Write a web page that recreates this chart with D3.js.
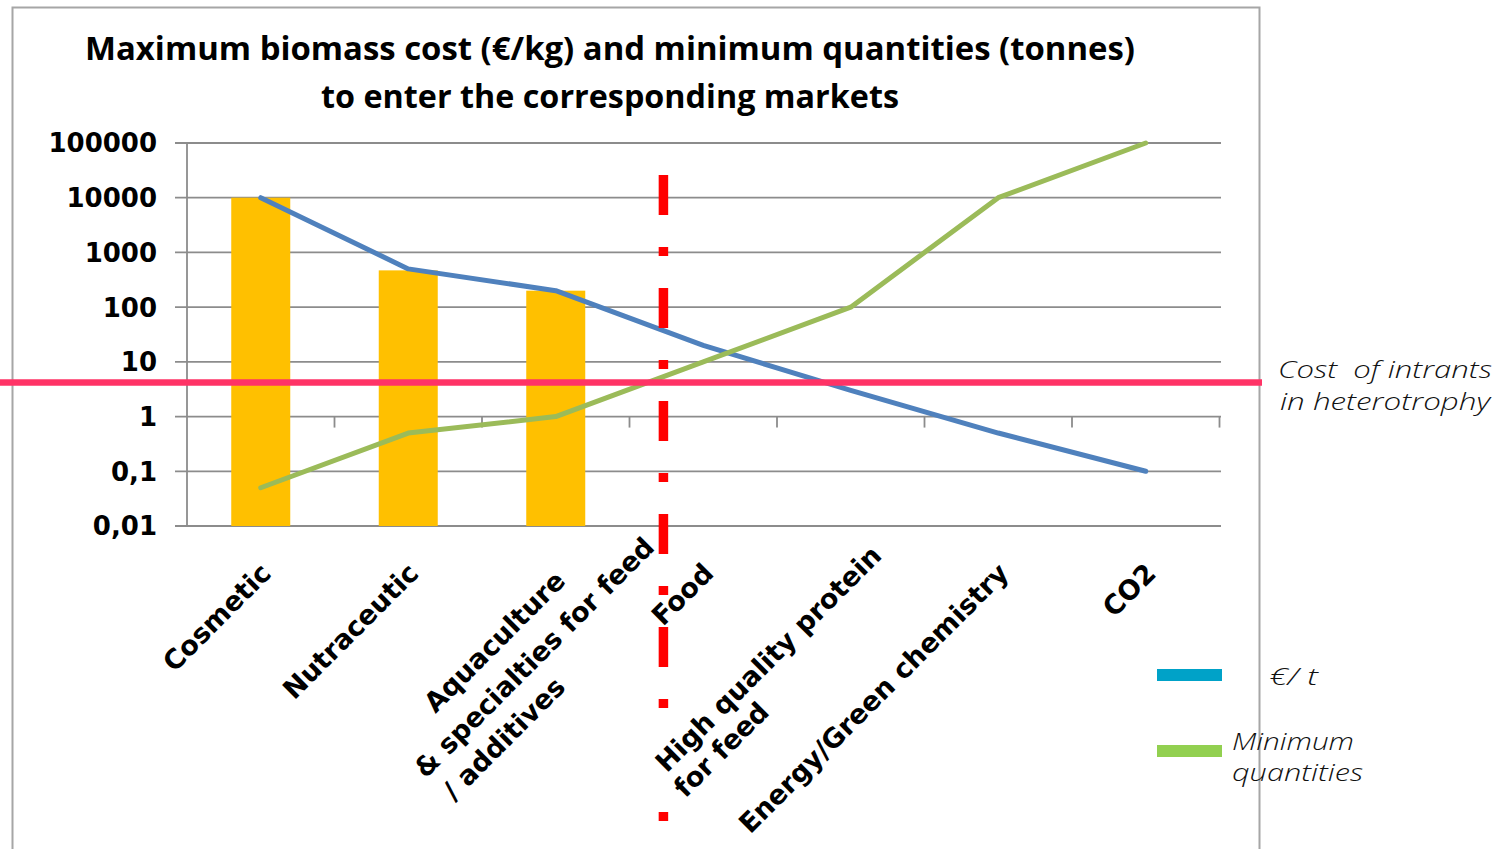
<!DOCTYPE html>
<html>
<head>
<meta charset="utf-8">
<script src="https://cdn.jsdelivr.net/npm/d3@7"></script>
<style>
  html, body { margin: 0; padding: 0; background: #ffffff; }
  svg { display: block; }
</style>
</head>
<body>
<script>
// ---------------- data ----------------
const categories = [
  ["Cosmetic"],
  ["Nutraceutic"],
  ["Aquaculture", "& specialties for feed", "/ additives"],
  ["Food"],
  ["High quality protein", "for feed"],
  ["Energy/Green chemistry"],
  ["CO2"]
];
const barValues = [10000, 470, 200, null, null, null, null];
const costValues = [10000, 500, 200, 20, 3, 0.5, 0.1];          // €/t
const minQuantities = [0.05, 0.5, 1, 10, 100, 10000, 100000];  // Minimum quantities
const yTickValues = [0.01, 0.1, 1, 10, 100, 1000, 10000, 100000];
const yTickLabels = ["0,01", "0,1", "1", "10", "100", "1000", "10000", "100000"];
const intrantsCost = 4.2;
const dividerAt = 3.23; // position in category units
const titleLines = ["Maximum biomass cost (\u20AC/kg) and minimum quantities (tonnes)", "to enter the corresponding markets"];
const legendLabels = [["\u20AC/ t"], ["Minimum", "quantities"]];
const annotationLines = ["Cost  of intrants", "in heterotrophy"];

// ---------------- layout ----------------
const W = 1510, H = 849;
const plot = { left: 187, right: 1219.5, top: 143, bottom: 526 };
// per-line offsets for the rotated multi-line labels [du, dv]
const labelLineOffsets = {
  2: [[-6, 5], [81, 44], [-81, 80]],
  4: [[27, 2], [-163, 33]]
};
const labelMasked = [4]; // labels drawn with an opaque box over the divider

const svg = d3.select("body").append("svg").attr("width", W).attr("height", H);
svg.append("rect").attr("width", W).attr("height", H).attr("fill", "#fff");

// chart border
svg.append("path")
  .attr("d", `M12.5,${H + 5} L12.5,7.5 L1259.5,7.5 L1259.5,${H + 5}`)
  .attr("fill", "none").attr("stroke", "#a6a6a6").attr("stroke-width", 2);

const x = d3.scaleBand().domain(d3.range(categories.length)).range([plot.left, plot.right]);
const bw = x.bandwidth();
const y = d3.scaleLog().domain([0.01, 100000]).range([plot.bottom, plot.top]);

// title
svg.append("g").selectAll("text").data(titleLines).join("text")
  .attr("x", 610).attr("y", (d, i) => 60 + i * 48)
  .attr("text-anchor", "middle")
  .attr("font-family", "'Open Sans', sans-serif").attr("font-weight", 700)
  .attr("font-size", 32).attr("fill", "#000")
  .attr("textLength", (d, i) => i === 0 ? 1050 : 578)
  .attr("lengthAdjust", "spacingAndGlyphs")
  .text(d => d);

// gridlines
const gridColor = "#8c8c8c";
svg.append("g").selectAll("line").data(yTickValues).join("line")
  .attr("x1", plot.left - 12).attr("x2", plot.right + 1.5)
  .attr("y1", d => y(d)).attr("y2", d => y(d))
  .attr("stroke", gridColor).attr("stroke-width", 1.8);

// y axis line
svg.append("line")
  .attr("x1", plot.left).attr("x2", plot.left)
  .attr("y1", plot.top).attr("y2", plot.bottom)
  .attr("stroke", gridColor).attr("stroke-width", 1.8);

// y labels
svg.append("g").selectAll("text").data(yTickValues).join("text")
  .attr("x", 157).attr("y", d => y(d)).attr("dy", "0.36em")
  .attr("text-anchor", "end")
  .attr("font-family", "'DejaVu Sans', sans-serif").attr("font-weight", 700)
  .attr("font-size", 26).attr("fill", "#000")
  .text((d, i) => yTickLabels[i]);

// category axis crossing at 1 with tick marks
const boundaries = d3.range(categories.length + 1).map(i => plot.left + i * bw);
svg.append("g").selectAll("line").data(boundaries.slice(1)).join("line")
  .attr("x1", d => d).attr("x2", d => d)
  .attr("y1", y(1)).attr("y2", y(1) + 11)
  .attr("stroke", gridColor).attr("stroke-width", 1.8);

// bars
svg.append("g").selectAll("rect").data(barValues.map((v, i) => ({ v, i })).filter(d => d.v != null)).join("rect")
  .attr("x", d => x(d.i) + bw * 0.3)
  .attr("width", bw * 0.4)
  .attr("y", d => y(d.v))
  .attr("height", d => y(0.01) - y(d.v))
  .attr("fill", "#FFC000");

// lines
const line = d3.line().x((d, i) => x(i) + bw / 2).y(d => y(d));
svg.append("path").datum(costValues).attr("d", line)
  .attr("fill", "none").attr("stroke", "#4F81BD").attr("stroke-width", 5)
  .attr("stroke-linejoin", "round").attr("stroke-linecap", "round");
svg.append("path").datum(minQuantities).attr("d", line)
  .attr("fill", "none").attr("stroke", "#9BBB59").attr("stroke-width", 5)
  .attr("stroke-linejoin", "round").attr("stroke-linecap", "round");

// cost of intrants line
svg.append("line")
  .attr("x1", 0).attr("x2", 1262)
  .attr("y1", y(intrantsCost)).attr("y2", y(intrantsCost))
  .attr("stroke", "#FF3366").attr("stroke-width", 6.5);

// divider
const divX = plot.left + dividerAt * bw;
svg.append("line")
  .attr("x1", divX).attr("x2", divX)
  .attr("y1", 175).attr("y2", H + 10)
  .attr("stroke", "#FF0000").attr("stroke-width", 9.5)
  .attr("stroke-dasharray", "40 32 9 32");

// x labels (rotated)
const xl = svg.append("g");
categories.forEach((lines, i) => {
  const g = xl.append("g")
    .attr("transform", `translate(${x(i) + bw / 2 + 5},568) rotate(-45)`);
  lines.forEach((t, j) => {
    const off = (labelLineOffsets[i] || [[0, 0]])[j] || [0, 0];
    const bg = g.append("rect").attr("fill", "#fff");
    const txt = g.append("text")
      .attr("x", off[0]).attr("y", off[1]).attr("dy", "0.36em")
      .attr("text-anchor", "end")
      .attr("font-family", "'DejaVu Sans', sans-serif").attr("font-weight", 700)
      .attr("font-size", 27).attr("fill", "#000")
      .text(t);
    if (labelMasked.includes(i) && j === 0) {
      const b = txt.node().getBBox();
      bg.attr("x", b.x - 12).attr("y", b.y - 5).attr("width", b.width + 12).attr("height", b.height + 5);
    } else {
      bg.remove();
    }
  });
});

// legend
const legendColors = ["#00A2C8", "#92D050"];
const legendY = [675, 751];
legendColors.forEach((c, i) => {
  svg.append("rect").attr("x", 1157).attr("y", legendY[i] - 6).attr("width", 65).attr("height", 12).attr("fill", c);
});
const italicFont = "'Open Sans', sans-serif";
svg.append("text").attr("x", 1269).attr("y", 685)
  .attr("font-family", italicFont).attr("font-style", "italic").attr("font-weight", 300)
  .attr("font-size", 23).attr("fill", "#111")
  .attr("textLength", 49).attr("lengthAdjust", "spacingAndGlyphs")
  .text(legendLabels[0][0]);
legendLabels[1].forEach((t, j) => {
  svg.append("text").attr("x", 1232).attr("y", 750 + j * 31)
    .attr("font-family", italicFont).attr("font-style", "italic").attr("font-weight", 300)
    .attr("font-size", 23).attr("fill", "#111")
    .attr("textLength", j === 0 ? 122 : 131).attr("lengthAdjust", "spacingAndGlyphs")
    .text(t);
});

// annotation
annotationLines.forEach((t, j) => {
  svg.append("text").attr("x", 1278 + j * 2).attr("y", 378 + j * 32)
    .attr("font-family", italicFont).attr("font-style", "italic").attr("font-weight", 300)
    .attr("font-size", 23).attr("fill", "#111")
    .style("white-space", "pre")
    .attr("textLength", j === 0 ? 214 : 210).attr("lengthAdjust", "spacingAndGlyphs")
    .text(t);
});
</script>
</body>
</html>
